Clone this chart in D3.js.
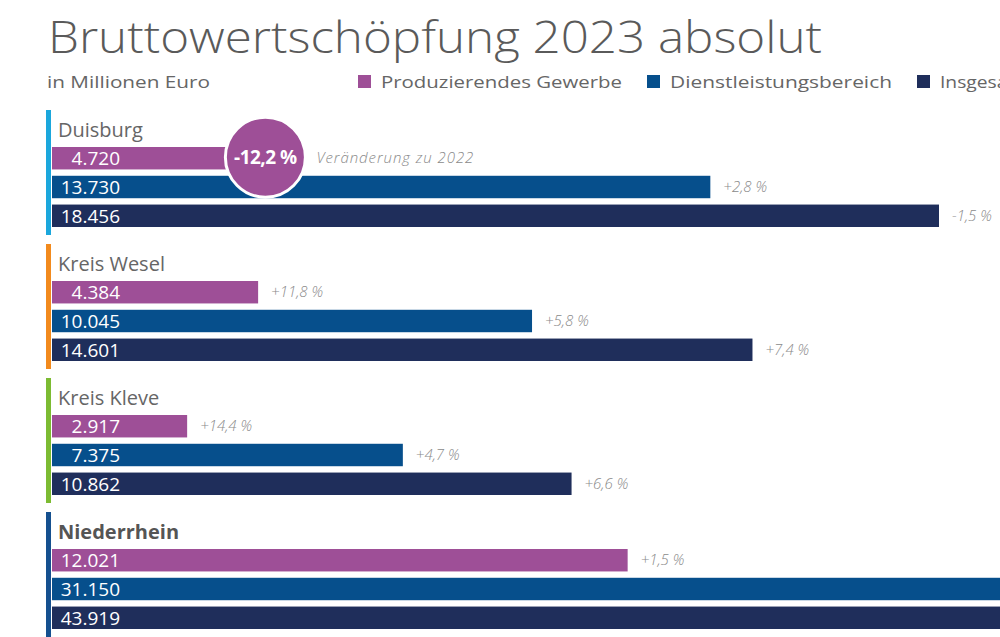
<!DOCTYPE html>
<html>
<head>
<meta charset="utf-8">
<script src="https://cdn.jsdelivr.net/npm/d3@7"></script>
<style>
  body { margin: 0; background: #fff; }
  svg { display: block; font-family: "Open Sans", sans-serif; }
</style>
</head>
<body>
<div id="chart"></div>
<script>
// data
const regions = ["Duisburg", "Kreis Wesel", "Kreis Kleve", "Niederrhein"];
const sectors = ["Produzierendes Gewerbe", "Dienstleistungsbereich", "Insgesamt"];
const produzierend = [4720, 4384, 2917, 12021];
const dienstleistung = [13730, 10045, 7375, 31150];
const insgesamt = [18456, 14601, 10862, 43919];
// change to 2022 in percent (Niederrhein rows 2/3 are cut off in the picture)
const chgProduzierend = [-12.2, 11.8, 14.4, 1.5];
const chgDienst = [2.8, 5.8, 4.7, null];
const chgInsgesamt = [-1.5, 7.4, 6.6, null];

const width = 1000, height = 637;
const sectorColors = ["#9e4f97", "#064f8c", "#1f2e5b"];
const accentColors = ["#1ba7dc", "#f28a1d", "#7cbb32", "#15508f"];
const legendTextLen = [241, 222, 92];

const de = d3.formatLocale({decimal: ",", thousands: ".", grouping: [3], currency: ["", " €"], minus: "-"});
const fmtVal = de.format(",d");
const fmtPct = v => de.format("+.1f")(v) + " %";

const rows = [];
regions.forEach((r, i) => {
  [produzierend, dienstleistung, insgesamt].forEach((arr, j) => {
    rows.push({region: r, gi: i, sector: sectors[j], si: j, value: arr[i],
      chg: [chgProduzierend, chgDienst, chgInsgesamt][j][i]});
  });
});

const svg = d3.select("#chart").append("svg")
  .attr("width", width).attr("height", height);

// scales
const x = d3.scaleLinear().domain([0, 18456]).range([46, 939]);
const barLeft = 52;
const yGroup = d3.scaleBand().domain(regions).range([147, 147 + 134 * 4]).paddingInner(0);
const yInner = d3.scaleBand().domain(sectors).range([0, 80]).paddingInner(0.22);
const color = d3.scaleOrdinal().domain(sectors).range(sectorColors);
const barY = d => yGroup(d.region) + yInner(d.sector);
const barMid = d => barY(d) + yInner.bandwidth() / 2;

// title, subtitle
svg.append("text")
  .attr("x", 48).attr("y", 53)
  .attr("textLength", 774).attr("lengthAdjust", "spacingAndGlyphs")
  .style("font-size", "45px").style("font-weight", 300).style("fill", "#5a5a5a")
  .text("Bruttowertschöpfung 2023 absolut");

svg.append("text")
  .attr("x", 47).attr("y", 88)
  .attr("textLength", 163).attr("lengthAdjust", "spacingAndGlyphs")
  .style("font-size", "17px").style("fill", "#666")
  .text("in Millionen Euro");

// legend
let lx = 358;
sectors.forEach((s, i) => {
  const g = svg.append("g").attr("transform", `translate(${lx},75)`);
  g.append("rect").attr("width", 13).attr("height", 13).attr("fill", color(s));
  g.append("text").attr("x", 23).attr("y", 13)
    .attr("textLength", legendTextLen[i]).attr("lengthAdjust", "spacingAndGlyphs")
    .style("font-size", "17px").style("fill", "#666").text(s);
  lx += 23 + legendTextLen[i] + 25;
});

// accent lines and region labels
const groups = svg.selectAll("g.region").data(regions).enter()
  .append("g").attr("class", "region");

groups.append("rect")
  .attr("x", 46).attr("width", 5)
  .attr("y", d => yGroup(d) - 37)
  .attr("height", 125)
  .attr("fill", (d, i) => accentColors[i]);

groups.append("text")
  .attr("x", 58)
  .attr("y", d => yGroup(d) - 10)
  .style("font-size", "20px")
  .style("font-weight", (d, i) => i === 3 ? 700 : 400)
  .style("fill", (d, i) => i === 3 ? "#555" : "#666")
  .text(d => d);

// bars
svg.selectAll("rect.bar").data(rows).enter()
  .append("rect").attr("class", "bar")
  .attr("x", barLeft)
  .attr("y", barY)
  .attr("width", d => x(d.value) - barLeft)
  .attr("height", yInner.bandwidth())
  .attr("fill", d => color(d.sector));

// values inside bars
svg.selectAll("text.val").data(rows).enter()
  .append("text").attr("class", "val")
  .attr("x", 120)
  .attr("y", d => barMid(d) + 7)
  .attr("text-anchor", "end")
  .style("font-size", "19px").style("font-weight", 500).style("fill", "#fff")
  .text(d => fmtVal(d.value));

// change labels right of bars (first one goes into the circle)
const highlight = rows[0];
svg.selectAll("text.chg").data(rows.filter(d => d.chg !== null && d !== highlight)).enter()
  .append("text").attr("class", "chg")
  .attr("x", d => x(d.value) + 13)
  .attr("y", d => barMid(d) + 5)
  .style("font-size", "15px").style("font-style", "italic").style("font-weight", 300)
  .style("fill", "#8a8a8a")
  .text(d => fmtPct(d.chg));

// highlighted change circle
const cx = x(highlight.value) - 9, cy = barMid(highlight) - 1, r = 40;
svg.append("circle")
  .attr("cx", cx).attr("cy", cy).attr("r", r)
  .attr("fill", color(highlight.sector))
  .attr("stroke", "#fff").attr("stroke-width", 3);
svg.append("text")
  .attr("x", cx).attr("y", cy + 7)
  .attr("text-anchor", "middle")
  .style("font-size", "19px").style("font-weight", 700).style("fill", "#fff")
  .style("letter-spacing", "-0.5px")
  .text(fmtPct(highlight.chg));
svg.append("text")
  .attr("x", cx + r + 11).attr("y", barMid(highlight) + 5)
  .attr("textLength", 157).attr("lengthAdjust", "spacing")
  .style("font-size", "15px").style("font-style", "italic").style("font-weight", 300)
  .style("fill", "#8a8a8a")
  .text("Veränderung zu 2022");
</script>
</body>
</html>
